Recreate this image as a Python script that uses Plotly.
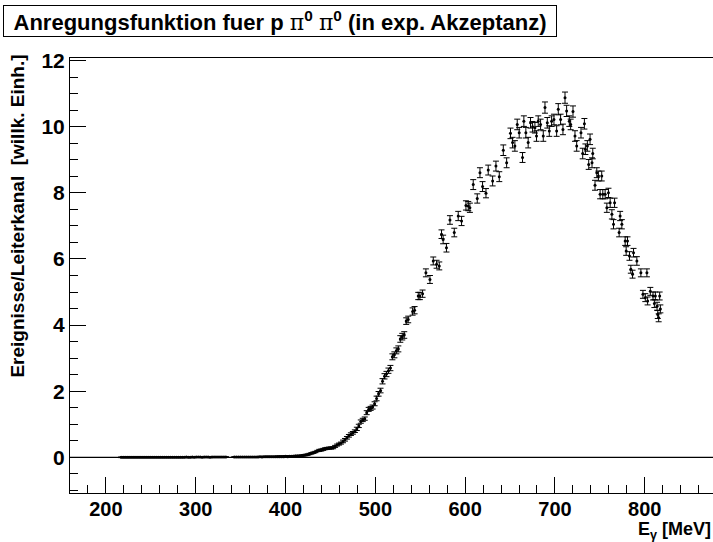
import plotly.graph_objects as go

# Photon beam energy per tagger channel [MeV] and the measured yield per channel
# --- below/near threshold ---
energy_low = [
    217.0, 219.2, 221.4, 223.6, 225.8, 228.0, 230.2, 232.4, 234.6, 236.8,
    239.0, 241.2, 243.4, 245.6, 247.8, 250.0, 252.2, 254.4, 256.6, 258.8,
    261.0, 263.2, 265.4, 267.6, 269.8, 272.0, 274.2, 276.4, 278.6, 280.8,
    283.0, 285.2, 287.4, 289.6, 291.8, 294.0, 296.2, 298.4, 300.6, 302.8,
    305.0, 307.2, 309.4, 311.6, 313.8, 316.0, 318.2, 320.4, 322.6, 324.8,
    327.0, 329.2, 331.4, 333.6, 343.0, 345.2, 347.4, 349.6, 351.8, 354.0,
    356.2, 358.4, 360.6, 362.8, 365.0, 367.2, 369.4, 371.6, 373.8, 376.0,
    378.2, 380.4, 382.6, 384.8, 387.0, 389.2, 391.4, 393.6, 395.8, 398.0,
    400.2, 402.4, 404.6, 406.8, 409.0, 411.2, 413.4,
]
value_low = [
    0.00, 0.00, 0.00, 0.00, 0.00, 0.00, 0.00, 0.00, 0.00, 0.00,
    0.00, 0.00, 0.00, 0.00, 0.00, 0.00, 0.00, 0.00, 0.00, 0.00,
    0.00, 0.00, 0.00, 0.00, 0.00, 0.00, 0.00, 0.00, 0.00, 0.00,
    0.00, 0.00, 0.00, 0.01, 0.00, 0.00, 0.01, 0.00, 0.01, 0.01,
    0.01, 0.00, 0.01, 0.01, 0.01, 0.00, 0.01, 0.01, 0.01, 0.01,
    0.01, 0.01, 0.01, 0.01, 0.01, 0.01, 0.01, 0.01, 0.01, 0.01,
    0.01, 0.01, 0.01, 0.01, 0.01, 0.01, 0.01, 0.02, 0.01, 0.02,
    0.02, 0.02, 0.02, 0.02, 0.02, 0.02, 0.02, 0.02, 0.02, 0.02,
    0.03, 0.02, 0.03, 0.03, 0.03, 0.04, 0.04,
]
error_low = [
    0.01, 0.01, 0.01, 0.01, 0.01, 0.01, 0.01, 0.01, 0.01, 0.01,
    0.01, 0.01, 0.01, 0.01, 0.01, 0.01, 0.01, 0.01, 0.01, 0.01,
    0.01, 0.01, 0.01, 0.01, 0.01, 0.01, 0.01, 0.01, 0.01, 0.01,
    0.01, 0.01, 0.01, 0.01, 0.01, 0.01, 0.01, 0.01, 0.01, 0.01,
    0.01, 0.01, 0.01, 0.01, 0.01, 0.01, 0.01, 0.01, 0.01, 0.01,
    0.01, 0.01, 0.01, 0.01, 0.01, 0.01, 0.01, 0.01, 0.01, 0.01,
    0.01, 0.01, 0.01, 0.01, 0.01, 0.01, 0.01, 0.01, 0.01, 0.01,
    0.01, 0.01, 0.01, 0.01, 0.01, 0.01, 0.02, 0.02, 0.02, 0.02,
    0.02, 0.02, 0.02, 0.02, 0.02, 0.02, 0.02,
]

# --- rising edge ---
energy_rise = [
    415.6, 417.8, 420.0, 422.2, 424.4, 426.6, 428.8, 431.0, 433.2, 435.4,
    437.6, 439.8, 442.0, 444.2, 446.4, 448.6, 450.8, 453.0, 455.2, 457.4,
    459.6, 461.8, 464.0, 466.2, 468.4, 470.6, 472.8, 475.0, 477.2, 479.4,
    481.6, 483.8, 486.0, 488.2, 490.4, 492.6, 494.8, 497.0, 499.2, 501.4,
    503.6, 505.8, 508.0, 510.2, 512.4, 514.6, 516.8, 519.0, 521.2, 523.4,
    525.6, 527.8, 530.0, 532.2, 534.4, 536.6,
]
value_rise = [
    0.04, 0.05, 0.06, 0.07, 0.08, 0.10, 0.12, 0.14, 0.16, 0.19,
    0.21, 0.22, 0.24, 0.26, 0.27, 0.28, 0.28, 0.29, 0.33, 0.37,
    0.40, 0.43, 0.48, 0.53, 0.59, 0.65, 0.70, 0.74, 0.79, 0.86,
    0.95, 1.08, 1.13, 1.17, 1.35, 1.45, 1.48, 1.52, 1.62, 1.78,
    1.92, 2.02, 2.30, 2.45, 2.52, 2.62, 2.70, 3.04, 3.10, 3.22,
    3.28, 3.58, 3.65, 3.70, 4.12, 4.17,
]
error_rise = [
    0.02, 0.02, 0.02, 0.02, 0.02, 0.02, 0.02, 0.02, 0.02, 0.02,
    0.03, 0.03, 0.03, 0.03, 0.03, 0.03, 0.03, 0.03, 0.03, 0.03,
    0.03, 0.03, 0.04, 0.04, 0.04, 0.04, 0.04, 0.04, 0.04, 0.05,
    0.05, 0.05, 0.05, 0.05, 0.06, 0.06, 0.06, 0.06, 0.06, 0.07,
    0.07, 0.07, 0.08, 0.08, 0.08, 0.08, 0.08, 0.09, 0.09, 0.09,
    0.09, 0.10, 0.10, 0.10, 0.10, 0.10,
]

# --- resonance region ---
energy_peak = [
    541.5, 543.7, 547.8, 549.6, 552.6, 556.3, 560.8, 564.5, 568.2, 571.2,
    573.7, 575.5, 579.2, 583.1, 587.9, 592.3, 596.0, 600.9, 603.5, 605.3,
    609.0, 613.5, 616.5, 619.4, 623.2, 625.7, 630.6, 634.3, 638.0, 642.5,
    646.2, 650.5, 652.8, 655.4, 658.0, 660.2, 663.9, 665.4, 667.6, 670.2,
    672.8, 675.1, 677.7, 679.5, 681.4, 684.0, 687.0, 688.9, 691.5, 693.7,
    696.3, 698.9, 701.9, 703.7, 706.3, 708.9, 711.2, 713.0, 716.0, 717.5,
    720.1, 722.3, 724.2, 729.0, 730.9, 732.8, 733.9, 736.1, 737.6, 739.1,
    741.3, 742.1, 744.6, 746.6, 748.4, 750.3, 752.1, 753.3, 755.9, 757.8,
    759.6, 761.5, 763.4, 765.2, 766.4, 771.5, 772.6, 774.5, 778.2, 779.3,
    780.8, 783.0, 784.5, 786.4, 787.5, 791.2, 795.7, 798.0, 800.6, 802.4,
    803.2, 806.2, 809.2, 810.7, 811.8, 813.7, 814.5, 815.5, 816.6, 817.4,
]
value_peak = [
    4.41, 4.45, 4.88, 4.88, 4.95, 5.58, 5.38, 5.94, 5.84, 5.79,
    6.75, 6.59, 6.34, 7.18, 6.80, 7.30, 7.15, 7.62, 7.60, 7.55,
    8.25, 7.83, 8.61, 8.19, 7.99, 8.69, 8.36, 8.81, 8.49, 9.29,
    8.91, 9.80, 9.52, 9.42, 10.07, 9.82, 9.07, 10.17, 9.82, 9.52,
    10.12, 10.00, 9.97, 9.72, 10.17, 10.07, 9.72, 10.58, 10.12, 9.87,
    10.17, 10.22, 9.87, 10.53, 10.22, 9.92, 10.88, 10.48, 10.17, 10.07,
    10.46, 9.72, 9.42, 9.82, 9.19, 10.09, 9.32, 9.42, 8.86, 9.62,
    8.91, 9.19, 8.23, 8.61, 8.51, 7.96, 8.51, 7.96, 7.96, 7.55,
    8.00, 7.70, 7.35, 7.05, 7.70, 6.80, 7.30, 7.05, 6.54, 6.24,
    6.54, 6.09, 5.69, 5.54, 6.19, 5.94, 5.58, 4.93, 4.83, 5.58,
    4.73, 5.02, 4.88, 4.65, 4.88, 4.57, 4.32, 4.22, 4.88, 4.49,
]
error_peak = [
    0.11, 0.11, 0.11, 0.11, 0.11, 0.12, 0.12, 0.12, 0.12, 0.12,
    0.13, 0.13, 0.13, 0.13, 0.13, 0.14, 0.14, 0.14, 0.14, 0.14,
    0.15, 0.14, 0.15, 0.15, 0.14, 0.15, 0.15, 0.15, 0.15, 0.16,
    0.15, 0.16, 0.16, 0.16, 0.16, 0.16, 0.15, 0.16, 0.16, 0.16,
    0.16, 0.16, 0.16, 0.16, 0.16, 0.16, 0.16, 0.17, 0.16, 0.16,
    0.16, 0.16, 0.16, 0.17, 0.16, 0.16, 0.17, 0.17, 0.16, 0.16,
    0.17, 0.16, 0.16, 0.16, 0.16, 0.16, 0.16, 0.16, 0.15, 0.16,
    0.15, 0.16, 0.15, 0.15, 0.15, 0.14, 0.15, 0.14, 0.14, 0.14,
    0.14, 0.14, 0.14, 0.14, 0.14, 0.13, 0.14, 0.14, 0.13, 0.13,
    0.13, 0.13, 0.12, 0.12, 0.13, 0.13, 0.12, 0.12, 0.12, 0.12,
    0.12, 0.12, 0.12, 0.12, 0.12, 0.12, 0.12, 0.12, 0.12, 0.12,
]

energy = energy_low + energy_rise + energy_peak
value = value_low + value_rise + value_peak
error = error_low + error_rise + error_peak
assert len(energy) == len(value) == len(error)

x_range = [160.0, 876.0]
y_range = [-1.08, 12.08]
x_ticks = [200, 300, 400, 500, 600, 700, 800]
y_ticks = [0, 2, 4, 6, 8, 10, 12]

FONT = "Liberation Sans, Arial, Helvetica, sans-serif"
SYMBOL = "font-family:DejaVu Serif;font-weight:normal"

fig = go.Figure()

# zero reference line across the frame
fig.add_shape(type="line", xref="paper", yref="y", x0=0, x1=1, y0=0, y1=0,
              line=dict(color="black", width=1.2), layer="below")

fig.add_trace(go.Scatter(
    x=energy, y=value, mode="markers",
    marker=dict(color="black", size=3, symbol="circle"),
    error_y=dict(type="data", array=error, visible=True,
                 color="black", thickness=1, width=3),
    showlegend=False,
))

fig.update_layout(
    width=713, height=542,
    margin=dict(l=70, r=0, t=58, b=49),
    paper_bgcolor="white", plot_bgcolor="white",
    font=dict(family=FONT, color="black", size=18, weight=700),
    xaxis=dict(
        range=x_range, tickvals=x_ticks, ticktext=[str(t) for t in x_ticks],
        ticks="inside", ticklen=16, tickwidth=1, tickcolor="black",
        minor=dict(dtick=20, tick0=0, ticks="inside", ticklen=8,
                   tickcolor="black", tickwidth=1),
        showline=True, linecolor="black", linewidth=1, mirror=True,
        showgrid=False, zeroline=False, ticklabelstandoff=-2,
        tickfont=dict(family=FONT, size=20, weight=700),
    ),
    yaxis=dict(
        range=y_range, tickvals=y_ticks, ticktext=[str(t) for t in y_ticks],
        ticks="inside", ticklen=16, tickwidth=1, tickcolor="black",
        minor=dict(dtick=0.5, tick0=0, ticks="inside", ticklen=8,
                   tickcolor="black", tickwidth=1),
        showline=True, linecolor="black", linewidth=1, mirror=False,
        showgrid=False, zeroline=False, ticklabelstandoff=0,
        tickfont=dict(family=FONT, size=21, weight=700),
    ),
)

# histogram-style title box
fig.add_annotation(
    xref="paper", yref="paper", x=-0.104, y=1.122,
    xanchor="left", yanchor="top", align="center", width=550,
    text=f"Anregungsfunktion fuer p <span style='{SYMBOL}'>π</span><sup>0</sup> "
         f"<span style='{SYMBOL}'>π</span><sup>0</sup> (in exp. Akzeptanz)",
    showarrow=False, bordercolor="black", borderwidth=1, borderpad=1,
    bgcolor="white", font=dict(family=FONT, size=22, weight=700),
)

# axis titles
fig.add_annotation(
    xref="paper", yref="paper", x=1.0, y=-0.087,
    xanchor="right", yanchor="middle",
    text="E<sub>γ</sub> [MeV]", showarrow=False,
    font=dict(family=FONT, size=18, weight=700),
)
fig.add_annotation(
    xref="paper", yref="paper", x=-0.082, y=1.012,
    xanchor="center", yanchor="top", textangle=-90,
    text="Ereignisse/Leiterkanal  [willk. Einh.]", showarrow=False,
    font=dict(family=FONT, size=19, weight=700),
)

fig.write_html("out.html")
